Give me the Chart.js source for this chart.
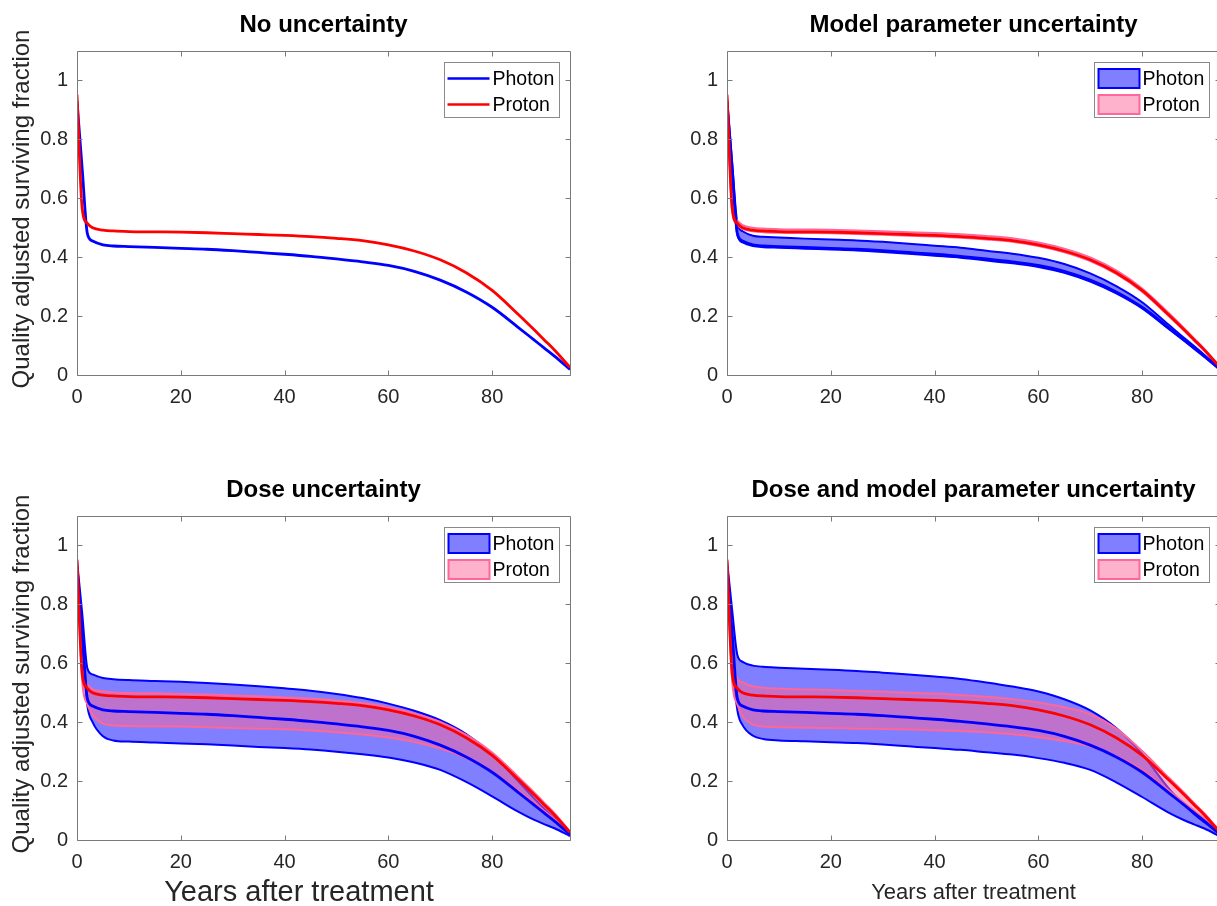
<!DOCTYPE html>
<html><head><meta charset="utf-8">
<script src="https://cdn.jsdelivr.net/npm/chart.js@4.4.1/dist/chart.umd.min.js"></script>
<style>
html,body{margin:0;padding:0;width:1217px;height:906px;overflow:hidden;background:#fff;font-family:"Liberation Sans",Arial,sans-serif;position:relative;}
canvas{position:absolute;}
.t{position:absolute;white-space:nowrap;line-height:1;}
.ttl{font-weight:bold;font-size:24px;color:#000;transform:translateX(-50%);}
.xl{color:#262626;transform:translateX(-50%);}
.yl{font-size:24px;color:#262626;transform:translate(-50%,-50%) rotate(-90deg);}
</style></head><body>
<canvas id="c0" width="573" height="385" style="left:7px;top:30px"></canvas>
<canvas id="c1" width="573" height="385" style="left:657px;top:30px"></canvas>
<canvas id="c2" width="573" height="385" style="left:7px;top:495px"></canvas>
<canvas id="c3" width="573" height="385" style="left:657px;top:495px"></canvas>
<div id="t0" class="t ttl" style="left:323.5px;top:12px"></div>
<div id="t1" class="t ttl" style="left:973.5px;top:12px"></div>
<div id="t2" class="t ttl" style="left:323.5px;top:477px"></div>
<div id="t3" class="t ttl" style="left:973.5px;top:477px"></div>
<div id="yl0" class="t yl" style="left:20.7px;top:209px"></div>
<div id="yl2" class="t yl" style="left:20.7px;top:674px"></div>
<div id="xl2" class="t xl" style="left:299px;top:877px;font-size:29px"></div>
<div id="xl3" class="t xl" style="left:973.5px;top:880.5px;font-size:22px"></div>
<script>
// ---------- data ----------
const years = [0,1,2,3,5,7,10,15,20,25,30,35,40,45,50,55,60,65,70,75,80,85,88,90,92,95];

const photonMean = [0.93,0.70,0.48,0.455,0.442,0.438,0.436,0.433,0.430,0.427,0.422,0.416,0.410,0.403,0.394,0.384,0.372,0.352,0.322,0.282,0.230,0.162,0.120,0.092,0.064,0.019];
const protonMean = [0.952,0.565,0.515,0.500,0.492,0.489,0.487,0.486,0.485,0.483,0.480,0.477,0.474,0.470,0.464,0.456,0.442,0.421,0.391,0.347,0.287,0.206,0.155,0.120,0.085,0.026];

const photonModelUpper = [0.94,0.72,0.515,0.488,0.473,0.469,0.467,0.463,0.460,0.457,0.452,0.446,0.439,0.432,0.422,0.412,0.398,0.377,0.345,0.302,0.247,0.172,0.127,0.098,0.068,0.021];
const photonModelLower = [0.92,0.68,0.475,0.450,0.438,0.434,0.432,0.429,0.426,0.423,0.418,0.412,0.405,0.398,0.389,0.379,0.367,0.347,0.317,0.277,0.226,0.158,0.117,0.089,0.061,0.018];
const protonModelUpper = [0.955,0.575,0.524,0.509,0.500,0.497,0.495,0.494,0.493,0.491,0.488,0.485,0.482,0.478,0.472,0.464,0.450,0.429,0.399,0.355,0.294,0.212,0.160,0.124,0.088,0.027];
const protonModelLower = [0.948,0.560,0.510,0.496,0.488,0.485,0.483,0.482,0.481,0.479,0.476,0.473,0.470,0.466,0.460,0.452,0.438,0.417,0.387,0.343,0.283,0.202,0.152,0.117,0.082,0.025];

const photonDoseUpper = [0.95,0.77,0.583,0.562,0.550,0.546,0.543,0.540,0.537,0.533,0.528,0.522,0.515,0.507,0.496,0.482,0.463,0.439,0.407,0.360,0.292,0.200,0.143,0.107,0.074,0.024];
const photonDoseLower = [0.92,0.66,0.455,0.400,0.352,0.338,0.334,0.331,0.328,0.325,0.321,0.316,0.312,0.307,0.300,0.291,0.280,0.263,0.238,0.197,0.148,0.096,0.069,0.054,0.040,0.013];
const protonDoseUpper = [0.955,0.60,0.530,0.512,0.505,0.501,0.499,0.498,0.496,0.494,0.491,0.488,0.484,0.480,0.474,0.465,0.451,0.430,0.401,0.357,0.297,0.215,0.163,0.127,0.091,0.029];
const protonDoseLower = [0.94,0.54,0.46,0.425,0.395,0.389,0.387,0.386,0.385,0.383,0.380,0.378,0.376,0.372,0.366,0.358,0.348,0.333,0.311,0.278,0.232,0.168,0.127,0.099,0.071,0.022];

const photonBothUpper = [0.95,0.78,0.628,0.605,0.592,0.588,0.585,0.581,0.578,0.574,0.568,0.562,0.555,0.547,0.535,0.521,0.504,0.478,0.440,0.380,0.292,0.178,0.121,0.088,0.060,0.021];
const photonBothLower = [0.91,0.62,0.44,0.39,0.354,0.343,0.338,0.335,0.332,0.329,0.324,0.318,0.312,0.306,0.298,0.290,0.278,0.262,0.238,0.196,0.146,0.094,0.068,0.053,0.039,0.012];
const protonBothUpper = [0.955,0.62,0.548,0.535,0.522,0.517,0.514,0.511,0.509,0.506,0.503,0.500,0.497,0.492,0.486,0.478,0.467,0.451,0.427,0.378,0.302,0.214,0.162,0.126,0.090,0.029];
const protonBothLower = [0.94,0.54,0.46,0.42,0.392,0.385,0.383,0.381,0.380,0.378,0.377,0.375,0.373,0.370,0.366,0.359,0.349,0.336,0.318,0.285,0.238,0.170,0.128,0.100,0.072,0.022];

const seriesNames = ['Photon','Proton'];
const panelTitles = ['No uncertainty','Model parameter uncertainty','Dose uncertainty','Dose and model parameter uncertainty'];
const xTicks = [0,20,40,60,80];
const yTicks = [0,0.2,0.4,0.6,0.8,1];
const xLabel = 'Years after treatment';
const yLabel = 'Quality adjusted surviving fraction';

// ---------- styling ----------
const FONT = '"Liberation Sans", Arial, sans-serif';
const BLUE = '#0000ff', RED = '#ff0000', PINK = '#ff6699';
const BLUE_FILL = 'rgba(0,0,255,0.5)', PINK_FILL = 'rgba(255,102,153,0.5)';
const AXIS = '#7a7a7a';

panelTitles.forEach((t,i)=>{document.getElementById('t'+i).textContent = t;});
document.getElementById('yl0').textContent = yLabel;
document.getElementById('yl2').textContent = yLabel;
document.getElementById('xl2').textContent = xLabel;
document.getElementById('xl3').textContent = xLabel;

function pts(arr){ return years.map((x,i)=>({x:x, y:arr[i]})); }

function lineDs(label, arr, color, width, order){
  return {label, data: pts(arr), borderColor: color, borderWidth: width, pointRadius: 0,
          fill: false, order, cubicInterpolationMode: 'monotone'};
}
function bandDs(label, up, lo, edge, fillc, order){
  return [
    {label: label+' upper', data: pts(up), borderColor: edge, borderWidth: 2, pointRadius: 0,
     fill: {target: '+1'}, backgroundColor: fillc, order: order, cubicInterpolationMode: 'monotone'},
    {label: label+' lower', data: pts(lo), borderColor: edge, borderWidth: 2, pointRadius: 0,
     fill: false, order: order - 0.5, cubicInterpolationMode: 'monotone'}
  ];
}

const boxPlugin = {
  id: 'mbox',
  afterDatasetsDraw(chart){
    const {ctx, chartArea: a, scales: {x, y}} = chart;
    const L = Math.round(a.left)+0.5, R = Math.round(a.right)+0.5, T = Math.round(a.top)+0.5, B = Math.round(a.bottom)+0.5;
    ctx.save();
    ctx.strokeStyle = AXIS; ctx.lineWidth = 1;
    ctx.beginPath();
    ctx.rect(L, T, R-L, B-T);
    x.ticks.forEach(t=>{
      const px = Math.round(x.getPixelForValue(t.value))+0.5;
      ctx.moveTo(px, B); ctx.lineTo(px, B-5);
      ctx.moveTo(px, T); ctx.lineTo(px, T+5);
    });
    y.ticks.forEach(t=>{
      const py = Math.round(y.getPixelForValue(t.value))+0.5;
      ctx.moveTo(L, py); ctx.lineTo(L+5, py);
      ctx.moveTo(R, py); ctx.lineTo(R-5, py);
    });
    ctx.stroke();
    ctx.restore();
  }
};

function legendPlugin(items){
  return {
    id: 'mlegend',
    afterDraw(chart){
      const {ctx, chartArea: a} = chart;
      const w = 115, h = 55;
      const bx = Math.round(a.right) - 11 - w + 0.5, by = Math.round(a.top) + 11 + 0.5;
      ctx.save();
      ctx.fillStyle = '#fff';
      ctx.fillRect(bx, by, w, h);
      ctx.strokeStyle = '#8a8a8a'; ctx.lineWidth = 1;
      ctx.strokeRect(bx, by, w, h);
      items.forEach((it, i)=>{
        const cy = by + 16 + i*26;
        if (it.type === 'line'){
          ctx.strokeStyle = it.stroke; ctx.lineWidth = 2.5;
          ctx.beginPath(); ctx.moveTo(bx+3, cy); ctx.lineTo(bx+45, cy); ctx.stroke();
        } else {
          ctx.fillStyle = it.fill;
          ctx.fillRect(bx+4, cy-9.5, 41, 19);
          ctx.strokeStyle = it.stroke; ctx.lineWidth = 2;
          ctx.strokeRect(bx+4, cy-9.5, 41, 19);
        }
        ctx.fillStyle = '#000';
        ctx.font = '19.5px ' + FONT;
        ctx.textBaseline = 'middle'; ctx.textAlign = 'left';
        ctx.fillText(it.label, bx+48, cy+1);
      });
      ctx.restore();
    }
  };
}

function makeChart(id, datasets, legendItems){
  new Chart(document.getElementById(id), {
    type: 'line',
    data: {datasets},
    options: {
      responsive: false, animation: false, devicePixelRatio: 1,
      layout: {padding: {top: 10, right: 10, left: 0, bottom: 0}},
      plugins: {legend: {display: false}, tooltip: {enabled: false}, title: {display: false}},
      scales: {
        x: {type: 'linear', min: 0, max: 95,
            afterBuildTicks: s => { s.ticks = xTicks.map(v=>({value: v})); },
            afterFit: s => { s.height = 40; },
            grid: {display: false, drawTicks: false}, border: {display: false},
            ticks: {padding: 10, color: '#262626', font: {family: FONT, size: 20}, maxRotation: 0, autoSkip: false,
                    callback: v => String(v)}},
        y: {type: 'linear', min: 0, max: 1.1,
            afterBuildTicks: s => { s.ticks = yTicks.map(v=>({value: v})); },
            afterFit: s => { s.width = 70; },
            grid: {display: false, drawTicks: false}, border: {display: false},
            ticks: {padding: 9, color: '#262626', font: {family: FONT, size: 20}, autoSkip: false,
                    callback: v => String(Math.round(v*10)/10)}}
      }
    },
    plugins: [boxPlugin, legendPlugin(legendItems)]
  });
}

const lineLegend = [
  {type: 'line', label: seriesNames[0], stroke: BLUE},
  {type: 'line', label: seriesNames[1], stroke: RED}
];
const patchLegend = [
  {type: 'patch', label: seriesNames[0], fill: BLUE_FILL, stroke: BLUE},
  {type: 'patch', label: seriesNames[1], fill: PINK_FILL, stroke: PINK}
];

makeChart('c0', [
  lineDs(seriesNames[0], photonMean, BLUE, 2.8, 2),
  lineDs(seriesNames[1], protonMean, RED, 2.8, 1)
], lineLegend);

function uncertaintyPanel(id, pU, pL, qU, qL){
  makeChart(id, [
    ...bandDs(seriesNames[0], pU, pL, BLUE, BLUE_FILL, 8),
    ...bandDs(seriesNames[1], qU, qL, PINK, PINK_FILL, 6),
    lineDs(seriesNames[0]+' mean', photonMean, BLUE, 2.8, 2),
    lineDs(seriesNames[1]+' mean', protonMean, RED, 2.8, 1)
  ], patchLegend);
}
uncertaintyPanel('c1', photonModelUpper, photonModelLower, protonModelUpper, protonModelLower);
uncertaintyPanel('c2', photonDoseUpper, photonDoseLower, protonDoseUpper, protonDoseLower);
uncertaintyPanel('c3', photonBothUpper, photonBothLower, protonBothUpper, protonBothLower);
</script>
</body></html>
